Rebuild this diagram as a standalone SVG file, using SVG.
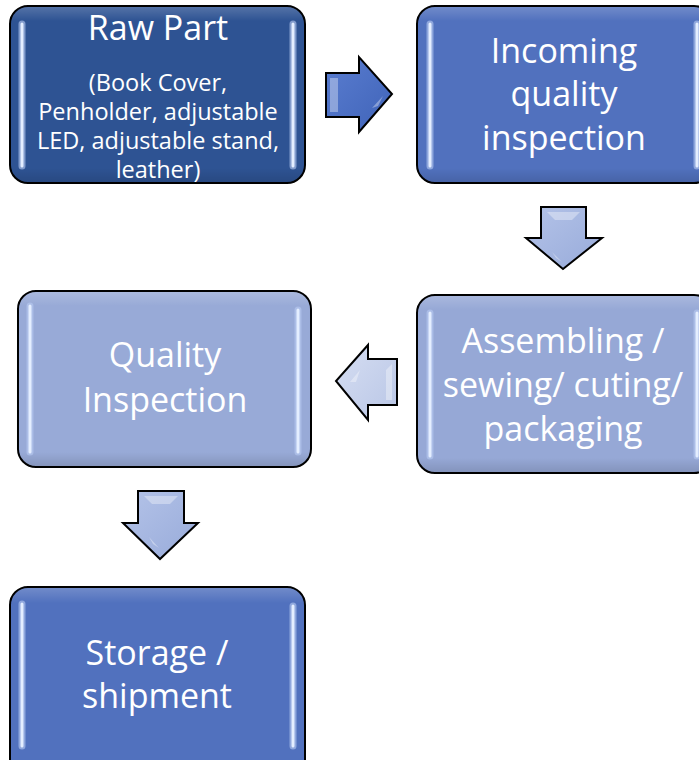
<svg xmlns="http://www.w3.org/2000/svg" width="699" height="760" viewBox="0 0 699 760">
<defs>
<style>
.box{stroke:#000;stroke-width:2}
.shade{fill:url(#sheen);stroke:none}
.hl{stroke:#E4EEFF;stroke-width:3;stroke-linecap:round;fill:none}
.hlg{stroke:#B9CCF2;stroke-width:7;stroke-linecap:round;fill:none;opacity:0.6}
.t{font-family:"Open Sans","Liberation Sans",Arial,sans-serif;fill:#fff;text-anchor:middle}
.big{font-size:34px}
.small{font-size:23.5px}
.arr{stroke:#000;stroke-width:2;stroke-linejoin:miter}
.facet{fill:#fff;opacity:0.35;stroke:none}
</style>
<linearGradient id="sheen" x1="0" y1="0" x2="0" y2="1">
<stop offset="0" stop-color="#fff" stop-opacity="0.18"/>
<stop offset="0.08" stop-color="#fff" stop-opacity="0"/>
<stop offset="0.92" stop-color="#000" stop-opacity="0"/>
<stop offset="1" stop-color="#000" stop-opacity="0.12"/>
</linearGradient>
<linearGradient id="a1" x1="0" y1="0" x2="1" y2="1">
<stop offset="0" stop-color="#5A7DD0"/>
<stop offset="1" stop-color="#3F63B8"/>
</linearGradient>
<linearGradient id="a2" x1="0" y1="0" x2="1" y2="1">
<stop offset="0" stop-color="#B4C3E8"/>
<stop offset="1" stop-color="#98ABDA"/>
</linearGradient>
<linearGradient id="a3" x1="0" y1="0" x2="1" y2="1">
<stop offset="0" stop-color="#D6DEF2"/>
<stop offset="1" stop-color="#B9C6E6"/>
</linearGradient>
</defs>

<g id="connectors">
<g id="arrow-right">
<path class="arr" fill="url(#a1)" d="M326,73 H359 V57 L392,94 L359,132 V117 H326 Z"/>
<path class="facet" d="M330,78 H338 V112 H330 Z"/>
<path class="facet" d="M372,108 L383,96 L378,106 Z"/>
</g>
<g id="arrow-down-1">
<path class="arr" fill="url(#a2)" d="M541,207 H586 V238 H602 L563,269 L526,238 H541 Z"/>
<path class="facet" d="M547,212 H580 L572,220 H555 Z"/>
<path class="facet" d="M552,252 L562,262 L556,258 Z"/>
</g>
<g id="arrow-left">
<path class="arr" fill="url(#a3)" d="M397,359 V405 H368 V420 L336,381 L368,345 V359 Z"/>
<path class="facet" d="M392,364 V400 H386 V370 Z"/>
<path class="facet" d="M350,382 L360,370 L356,382 Z"/>
</g>
<g id="arrow-down-2">
<path class="arr" fill="url(#a2)" d="M138,491 H184 V523 H198 L160,559 L123,523 H138 Z"/>
<path class="facet" d="M144,496 H178 L170,504 H152 Z"/>
<path class="facet" d="M149,537 L159,548 L153,544 Z"/>
</g>
</g>

<g id="node-raw-part">
<rect class="box" x="10" y="6" width="295" height="177" rx="18" fill="#2E5393"/>
<rect class="shade" x="11" y="7" width="293" height="175" rx="17"/>
<path class="hlg" d="M22,24 V166 M293,24 V166"/>
<path class="hl" d="M22,24 V166 M293,24 V166"/>
<text class="t big" x="158" y="40">Raw Part</text>
<text class="t small" x="158" y="91">(Book Cover,</text>
<text class="t small" x="158" y="120">Penholder, adjustable</text>
<text class="t small" x="158" y="149">LED, adjustable stand,</text>
<text class="t small" x="158" y="178">leather)</text>
</g>

<g id="node-incoming">
<rect class="box" x="417" y="6" width="295" height="177" rx="18" fill="#5171BE"/>
<rect class="shade" x="418" y="7" width="293" height="175" rx="17"/>
<path class="hlg" d="M430,24 V166 M697,24 V166"/>
<path class="hl" d="M430,24 V166 M697,24 V166"/>
<text class="t big" x="564" y="63">Incoming</text>
<text class="t big" x="564" y="106">quality</text>
<text class="t big" x="564" y="150">inspection</text>
</g>

<g id="node-assembling">
<rect class="box" x="417" y="295" width="295" height="178" rx="18" fill="#96A8D6"/>
<rect class="shade" x="418" y="296" width="293" height="176" rx="17"/>
<path class="hlg" d="M430,313 V456 M697,313 V456"/>
<path class="hl" d="M430,313 V456 M697,313 V456"/>
<text class="t big" x="563" y="353">Assembling /</text>
<text class="t big" x="563" y="397">sewing/ cuting/</text>
<text class="t big" x="563" y="441">packaging</text>
</g>

<g id="node-quality">
<rect class="box" x="18" y="291" width="293" height="176" rx="18" fill="#98AAD7"/>
<rect class="shade" x="19" y="292" width="291" height="174" rx="17"/>
<path class="hlg" d="M30,306 V452 M298,310 V452"/>
<path class="hl" d="M30,306 V452 M298,310 V452"/>
<text class="t big" x="165" y="367">Quality</text>
<text class="t big" x="165" y="412">Inspection</text>
</g>

<g id="node-storage">
<rect class="box" x="10" y="587" width="295" height="190" rx="18" fill="#5171BE"/>
<rect class="shade" x="11" y="588" width="293" height="188" rx="17"/>
<path class="hlg" d="M22,604 V746 M293,606 V746"/>
<path class="hl" d="M22,604 V746 M293,606 V746"/>
<text class="t big" x="157" y="665">Storage /</text>
<text class="t big" x="157" y="708">shipment</text>
</g>
</svg>
